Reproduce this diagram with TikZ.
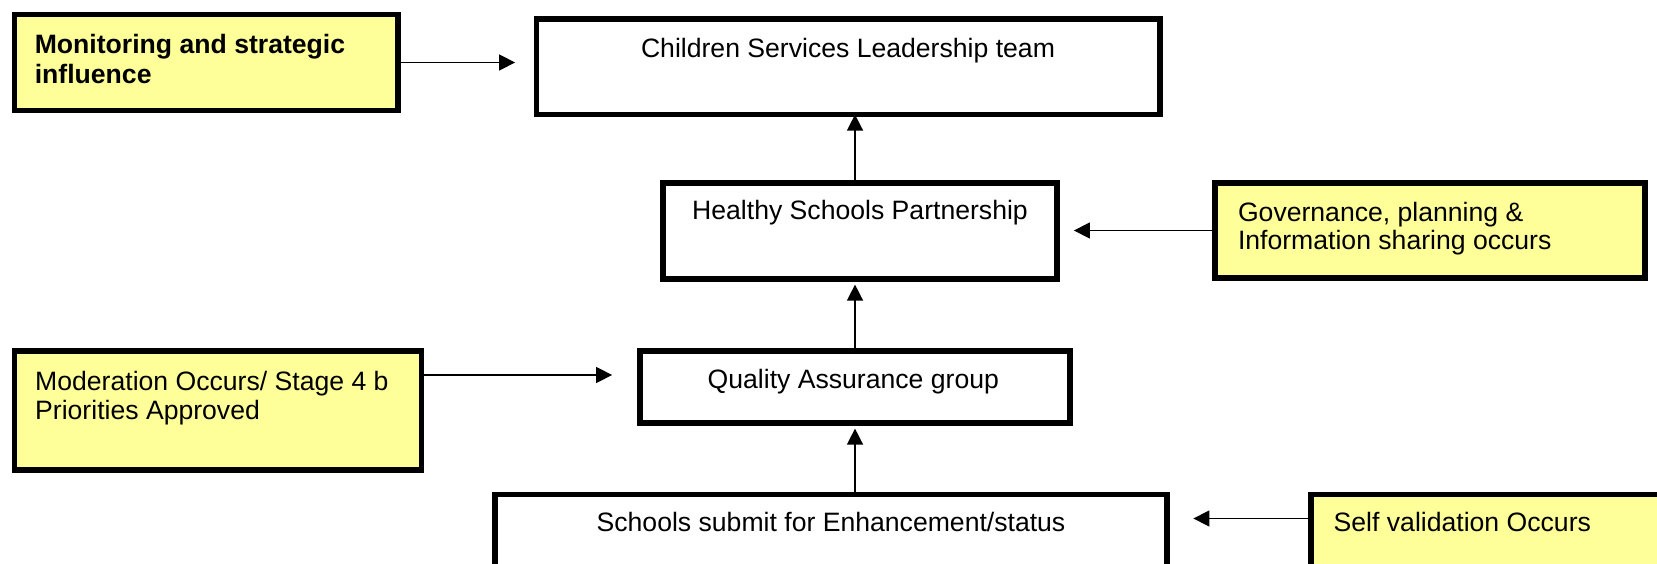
\documentclass[tikz,border=0pt]{standalone}
\usepackage{fontspec}
\setmainfont{Liberation Sans}
\usetikzlibrary{arrows.meta}
\definecolor{notefill}{HTML}{FFFF99}
\begin{document}
\begin{tikzpicture}[x=1pt,y=-1pt,
  box/.style={draw=black, line width=5.8pt, inner sep=0pt, rectangle},
  notebox/.style={box, fill=notefill},
  lbl/.style={inner sep=0pt, font=\fontsize{26.6}{29}\selectfont, align=left},
  arr/.style={line width=1.5pt, -{Triangle[length=16pt,width=16pt]}}]
\useasboundingbox (0,0) rectangle (1657,564);
\clip (0,0) rectangle (1657,564);
\fill[white] (0,0) rectangle (1657,564);

% boxes
\node[notebox, minimum width=383.5pt, minimum height=96pt] (mon) at (206.25,62.5) {};
\node[box, minimum width=623.5pt, minimum height=95.5pt] (cs) at (848.25,66.75) {};
\node[box, minimum width=394pt, minimum height=96pt] (hs) at (860,231) {};
\node[notebox, minimum width=430pt, minimum height=95pt] (gov) at (1430,230.5) {};
\node[box, minimum width=430pt, minimum height=72pt] (qa) at (855,386.7) {};
\node[notebox, minimum width=407pt, minimum height=119.6pt] (mod) at (218,410.5) {};
\node[box, minimum width=672pt, minimum height=100pt] (sch) at (831,544.5) {};
\node[notebox, minimum width=400pt, minimum height=100pt] (self) at (1511,544.5) {};

% texts (base anchor of a multi-line node = baseline of its last line)
\node[lbl, anchor=base west, font=\fontsize{26.6}{30}\selectfont\bfseries] (monT) at (34.6,83.3) {Monitoring and strategic\\influence};
\node[lbl, anchor=base] (csT) at (848,57.3) {Children Services Leadership team};
\node[lbl, anchor=base] (hsT) at (860,220) {Healthy Schools Partnership};
\node[lbl, anchor=base west, font=\fontsize{26.6}{28.5}\selectfont] (govT) at (1237.8,250) {Governance, planning \&\\Information sharing occurs};
\node[lbl, anchor=base] (qaT) at (853.3,388.3) {Quality Assurance group};
\node[lbl, anchor=base west] (modT) at (35,419) {Moderation Occurs/ Stage 4 b\\Priorities Approved};
\node[lbl, anchor=base] (schT) at (831,531.7) {Schools submit for Enhancement/status};
\node[lbl, anchor=base west] (selfT) at (1333.5,531.7) {Self validation Occurs};

% connector end points
\coordinate (csIn) at ([xshift=-18.5pt]cs.west);
\coordinate (csB) at ([yshift=2.8pt]cs.south);
\coordinate (hsB) at ([yshift=-2.7pt]hs.south);
\coordinate (qaB) at ([yshift=-3pt]qa.south);
\coordinate (hsIn) at ([xshift=14pt]hs.east);
\coordinate (modOut) at ([yshift=35.5pt]mod.east);
\coordinate (qaIn) at ([xshift=-25pt]qa.west);
\coordinate (schIn) at ([xshift=23.5pt]sch.east);
\coordinate (selfOut) at ([yshift=26pt]self.west);

% connectors
\draw[arr] (mon.east) -- (csIn |- mon.east);
\draw[arr] (hs.north -| qa.north) -- (csB -| qa.north);
\draw[arr] (gov.west) -- (hsIn |- gov.west);
\draw[arr] (qa.north) -- (hsB -| qa.north);
\draw[arr] (modOut) -- (qaIn |- modOut);
\draw[arr] (sch.north -| qa.north) -- (qaB);
\draw[arr] (selfOut) -- (schIn |- selfOut);
\end{tikzpicture}
\end{document}
